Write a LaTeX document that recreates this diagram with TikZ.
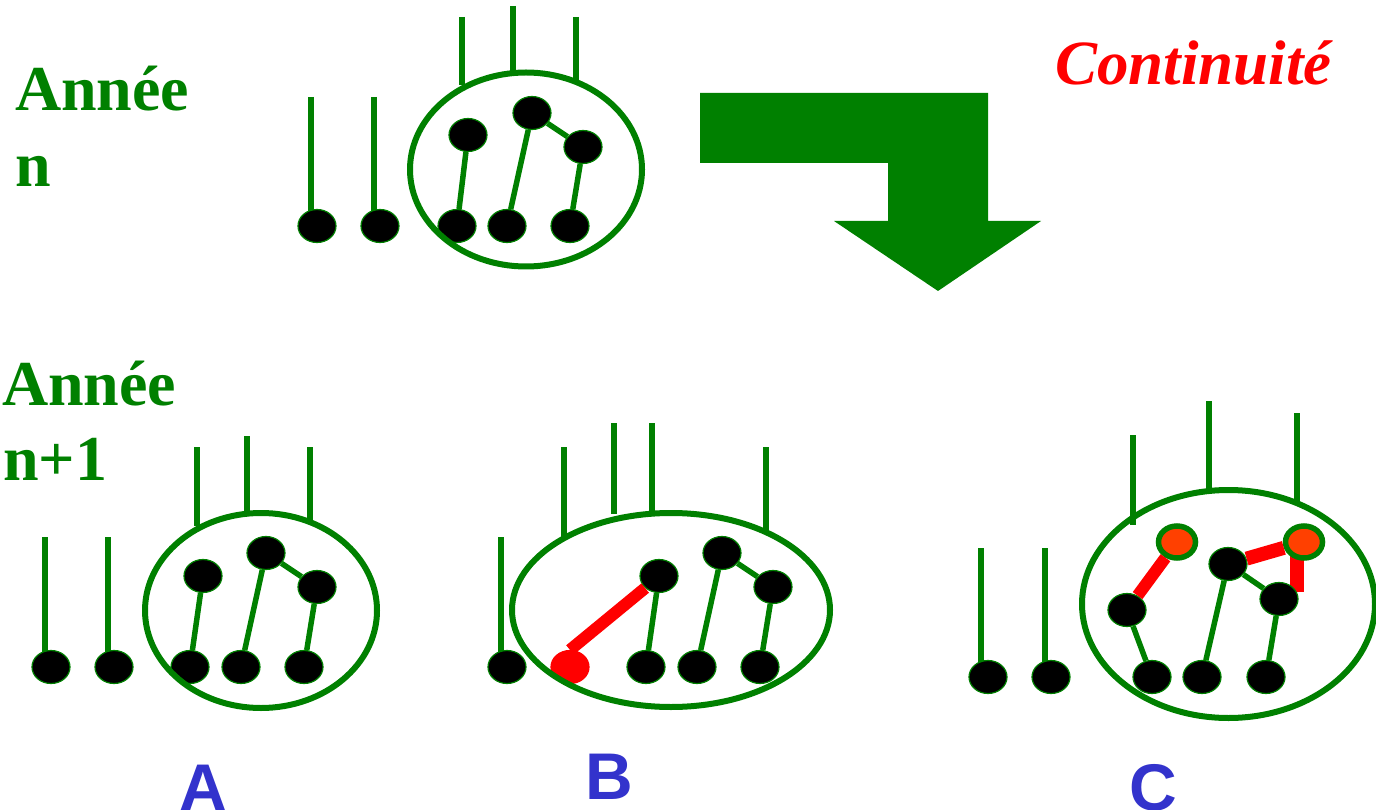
\documentclass[tikz,border=0pt]{standalone}
\usepackage{fontspec}
\newfontfamily\timesfont{Liberation Serif}
\newfontfamily\arialfont{Liberation Sans}
\usetikzlibrary{shapes.geometric}

\definecolor{grn}{RGB}{0,128,0}
\definecolor{blu}{RGB}{51,51,204}
\definecolor{orng}{RGB}{255,64,0}

\pgfdeclarelayer{background}
\pgfsetlayers{background,main}

\tikzset{
  seed/.style={ellipse, draw=grn, line width=1.2pt, fill=black, minimum width=38pt, minimum height=33pt, inner sep=0pt},
  redseed/.style={seed, draw=red, fill=red},
  hotseed/.style={seed, line width=5.5pt, fill=orng, minimum width=37pt, minimum height=32pt},
  stem/.style={grn, line width=6pt},
  bond/.style={grn, line width=5.5pt},
  redbond/.style={red, line width=12pt},
  cell/.style={ellipse, draw=grn, line width=6pt, inner sep=0pt},
  year/.style={font=\timesfont\bfseries\fontsize{64}{76}\selectfont, text=grn, anchor=base west, inner sep=0pt},
  tag/.style={font=\arialfont\bfseries\fontsize{66}{70}\selectfont, text=blu, anchor=base, inner sep=0pt},
}

\begin{document}
\begin{tikzpicture}[x=1pt, y=-1pt]
  \useasboundingbox (0,0) rectangle (1376,810);

  % labels
  \node[year] (yn) at (15,111) {Année};
  \node[year] (yn2) at (15,187) {n};
  \node[year] (ym) at (2,405) {Année};
  \node[year] (ym2) at (3,480) {n+1};
  \node[font=\timesfont\bfseries\itshape\fontsize{63}{70}\selectfont, text=red, anchor=base west, inner sep=0pt] (cont) at (1055,85) {Continuité};
  \node[tag] (tagA) at (203,810) {A};
  \node[tag] (tagB) at (609,799) {B};
  \node[tag] (tagC) at (1153,810) {C};

  % big bent arrow
  \fill[grn] (700,93) -- (988,93) -- (988,221) -- (1041,221) -- (938,291)
    -- (834,221) -- (888,221) -- (888,163) -- (700,163) -- cycle;

  % year n
  \node[seed] (d1) at (317,226) {};
  \node[seed] (d2) at (380,226) {};
  \node[seed] (d3) at (457,226) {};
  \node[seed] (d4) at (507,226) {};
  \node[seed] (d5) at (570,226) {};
  \node[seed] (u1) at (468,135) {};
  \node[seed] (u2) at (532,113) {};
  \node[seed] (u3) at (583,147) {};
  \coordinate (t1) at (311,97);
  \coordinate (t2) at (374,97);
  \begin{pgfonlayer}{background}
    \draw[stem] (t1) -- (t1 |- d1);
    \draw[stem] (t2) -- (t2 |- d2);
  \end{pgfonlayer}
  \draw[bond] (u1) -- (d3);
  \draw[bond] (u2) -- (d4);
  \draw[bond] (u2) -- (u3);
  \draw[bond] (u3) -- (d5);
  \node[cell, minimum width=232pt, minimum height=194pt] (e0) at (526,169.5) {};
  \draw[stem] (462,17) -- (462,85);
  \draw[stem] (513,6) -- (513,73);
  \draw[stem] (576,17) -- (576,81);

  % case A
  \node[seed] (a1) at (51,667) {};
  \node[seed] (a2) at (114,667) {};
  \node[seed] (a3) at (190,667) {};
  \node[seed] (a4) at (241,667) {};
  \node[seed] (a5) at (304,667) {};
  \node[seed] (au1) at (203,576) {};
  \node[seed] (au2) at (266,553) {};
  \node[seed] (au3) at (317,587) {};
  \coordinate (ta1) at (45,537);
  \coordinate (ta2) at (108,537);
  \begin{pgfonlayer}{background}
    \draw[stem] (ta1) -- (ta1 |- a1);
    \draw[stem] (ta2) -- (ta2 |- a2);
  \end{pgfonlayer}
  \draw[bond] (au1) -- (a3);
  \draw[bond] (au2) -- (a4);
  \draw[bond] (au2) -- (au3);
  \draw[bond] (au3) -- (a5);
  \node[cell, minimum width=232pt, minimum height=195pt] (ea) at (261,610.5) {};
  \draw[stem] (197,447) -- (197,526);
  \draw[stem] (247,436) -- (247,514);
  \draw[stem] (310,447) -- (310,521);

  % case B
  \node[seed] (b0) at (507,667) {};
  \node[redseed] (br) at (570,667) {};
  \node[seed] (b1) at (646,667) {};
  \node[seed] (b2) at (697,667) {};
  \node[seed] (b3) at (760,667) {};
  \node[seed] (bu1) at (659,576) {};
  \node[seed] (bu2) at (722,553) {};
  \node[seed] (bu3) at (773,587) {};
  \coordinate (tb0) at (501,537);
  \begin{pgfonlayer}{background}
    \draw[stem] (tb0) -- (tb0 |- b0);
  \end{pgfonlayer}
  \draw[bond] (bu1) -- (b1);
  \draw[bond] (bu2) -- (b2);
  \draw[bond] (bu2) -- (bu3);
  \draw[bond] (bu3) -- (b3);
  \draw[redbond] (br.north) -- (bu1.south west);
  \node[cell, minimum width=318pt, minimum height=194pt] (eb) at (671,610) {};
  \draw[stem] (564,447) -- (564,538);
  \draw[stem] (614,423) -- (614,514);
  \draw[stem] (652,423) -- (652,513);
  \draw[stem] (766,447) -- (766,534);

  % case C
  \node[seed] (c1) at (988,677) {};
  \node[seed] (c2) at (1051,677) {};
  \node[seed] (c3) at (1152,677) {};
  \node[seed] (c4) at (1202,677) {};
  \node[seed] (c5) at (1266,677) {};
  \node[seed] (cm1) at (1127,610) {};
  \node[seed] (cm2) at (1228,564) {};
  \node[seed] (cm3) at (1279,599) {};
  \node[hotseed] (co1) at (1177,542) {};
  \node[hotseed] (co2) at (1304,542) {};
  \coordinate (tc1) at (981,548);
  \coordinate (tc2) at (1045,548);
  \begin{pgfonlayer}{background}
    \draw[stem] (tc1) -- (tc1 |- c1);
    \draw[stem] (tc2) -- (tc2 |- c2);
    \draw[redbond, line width=14pt] (1297,545) -- (1297,592);
  \end{pgfonlayer}
  \draw[bond] (cm1) -- (c3);
  \draw[bond] (cm2) -- (c4);
  \draw[bond] (cm2) -- (cm3);
  \draw[bond] (cm3) -- (c5);
  \draw[redbond] (cm1) -- (co1);
  \draw[redbond, line width=14pt] (cm2) -- (co2);
  \node[cell, minimum width=293pt, minimum height=228pt] (ec) at (1228.5,604) {};
  \draw[stem] (1133,435) -- (1133,525);
  \draw[stem] (1209,401) -- (1209,491);
  \draw[stem] (1297,413) -- (1297,504);
\end{tikzpicture}
\end{document}
